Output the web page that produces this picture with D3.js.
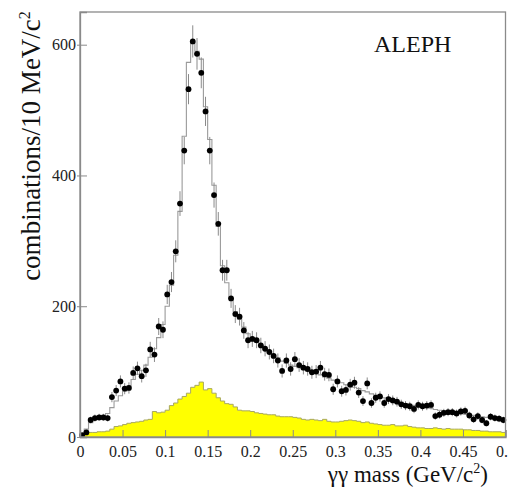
<!DOCTYPE html>
<html><head><meta charset="utf-8">
<script src="https://cdn.jsdelivr.net/npm/d3@7"></script>
<style>body{margin:0;background:#fff} svg{display:block}</style>
</head><body><svg id="c" width="508" height="487"></svg>
<script>
// γγ invariant mass spectrum, 5 MeV bins from 0 to 0.5 GeV/c²
const binWidth = 0.005;
const dataCounts = [
  3, 7, 26, 29, 30, 30, 29, 61, 71, 85,
  74, 75, 98, 105, 93, 102, 134, 126, 169, 164,
  218, 237, 284, 357, 438, 532, 605, 586, 557, 498,
  438, 370, 326, 255, 255, 212, 188, 184, 163, 148,
  150, 148, 140, 135, 130, 124, 117, 101, 117, 104,
  119, 110, 106, 104, 99, 100, 106, 96, 95, 73,
  85, 70, 72, 80, 83, 68, 55, 82, 52, 60,
  62, 52, 58, 56, 54, 50, 48, 47, 43, 49,
  47, 48, 49, 32, 34, 37, 38, 38, 36, 39,
  40, 33, 27, 32, 26, 21, 31, 29, 28, 26
];
const mcCounts = [
  5, 12, 22, 27, 30, 33, 36, 45, 55, 63,
  70, 78, 88, 96, 102, 110, 122, 135, 152, 172,
  200, 232, 278, 345, 460, 573, 603, 590, 578, 505,
  455, 385, 322, 262, 236, 212, 192, 180, 168, 158,
  150, 145, 140, 134, 130, 125, 121, 116, 113, 110,
  108, 106, 104, 101, 99, 97, 95, 92, 90, 87,
  85, 83, 80, 78, 76, 74, 71, 69, 66, 64,
  62, 60, 58, 57, 55, 53, 51, 50, 48, 47,
  46, 45, 44, 42, 41, 40, 39, 38, 37, 36,
  35, 34, 33, 32, 31, 30, 29, 29, 28, 27
];
const bgCounts = [
  4, 6, 7, 7, 8, 8, 9, 12, 16, 17,
  19, 21, 22, 23, 24, 26, 27, 39, 37, 38,
  41, 48, 52, 58, 62, 67, 76, 79, 84, 72,
  74, 67, 60, 55, 51, 50, 46, 41, 40, 40,
  39, 37, 36, 35, 34, 34, 32, 31, 31, 31,
  30, 29, 27, 26, 27, 26, 25, 27, 24, 23,
  23, 24, 25, 26, 25, 24, 22, 23, 21, 20,
  19, 18, 18, 19, 17, 17, 18, 16, 15, 14,
  14, 13, 13, 14, 13, 12, 13, 12, 12, 12,
  11, 11, 10, 10, 9, 9, 8, 8, 8, 7
];
const xTicks = [0, 0.05, 0.1, 0.15, 0.2, 0.25, 0.3, 0.35, 0.4, 0.45, 0.5];
const yTicks = [0, 200, 400, 600];
const xTitle = "γγ mass (GeV/c";
const yTitle = "combinations/10 MeV/c";
const expLabel = "ALEPH";

const svg = d3.select("#c");
const L = 80, R = 505.5, T = 12, B = 437;
const x = d3.scaleLinear().domain([0, 0.5]).range([L, R]);
const y = d3.scaleLinear().domain([0, 650]).range([B, T]);
const serif = "'Liberation Serif','Times New Roman',serif";

// step outline from bin contents: [lowEdge, value] plus the closing edge
function steps(arr) {
  const pts = arr.map((v, i) => [i * binWidth, v]);
  pts.push([arr.length * binWidth, arr[arr.length - 1]]);
  return pts;
}

const g = svg.append("g");

// background component (filled)
g.append("path")
  .datum(steps(bgCounts))
  .attr("d", d3.area().x(d => x(d[0])).y0(y(0)).y1(d => y(d[1])).curve(d3.curveStepAfter))
  .attr("fill", "#ffff00");
g.append("path")
  .datum(steps(bgCounts))
  .attr("d", d3.line().x(d => x(d[0])).y(d => y(d[1])).curve(d3.curveStepAfter))
  .attr("fill", "none").attr("stroke", "#a8a860").attr("stroke-width", 1);

// simulation histogram
g.append("path")
  .datum(steps(mcCounts))
  .attr("d", d3.line().x(d => x(d[0])).y(d => y(d[1])).curve(d3.curveStepAfter))
  .attr("fill", "none").attr("stroke", "#9a9a9a").attr("stroke-width", 1.1);

// data points with statistical errors
const pts = dataCounts.map((v, i) => ({ m: (i + 0.5) * binWidth, n: v }));
g.selectAll("line.err").data(pts).join("line")
  .attr("class", "err")
  .attr("x1", d => x(d.m)).attr("x2", d => x(d.m))
  .attr("y1", d => y(d.n + Math.sqrt(d.n))).attr("y2", d => y(Math.max(0, d.n - Math.sqrt(d.n))))
  .attr("stroke", "#8a8a8a").attr("stroke-width", 1);
g.selectAll("circle.pt").data(pts).join("circle")
  .attr("class", "pt")
  .attr("cx", d => x(d.m)).attr("cy", d => y(d.n)).attr("r", 2.9)
  .attr("fill", "#000");

// frame
svg.append("rect").attr("x", L).attr("y", T).attr("width", R - L).attr("height", B - T)
  .attr("fill", "none").attr("stroke", "#8a8a8a").attr("stroke-width", 1.3);

// axes with inward ticks
const xAxis = svg.append("g").attr("transform", `translate(0,${B})`)
  .call(d3.axisBottom(x).tickValues(xTicks).tickSize(-7).tickPadding(9)
    .tickFormat(d => d === 0 ? "0" : d3.format("~g")(d)));
const yAxis = svg.append("g").attr("transform", `translate(${L},0)`)
  .call(d3.axisLeft(y).tickValues(yTicks).tickSize(-7).tickPadding(4));
[xAxis, yAxis].forEach(a => {
  a.select(".domain").attr("stroke", "#8a8a8a").attr("stroke-width", 1.3);
  a.selectAll(".tick line").attr("stroke", "#8a8a8a").attr("stroke-width", 1);
  a.selectAll(".tick text").attr("fill", "#222").style("font-family", serif).style("font-size", "16px");
});
yAxis.selectAll(".tick line").attr("x1", -3).attr("x2", 7);

// titles
const xt = svg.append("text").attr("x", 488).attr("y", 482).attr("text-anchor", "end")
  .style("font-family", serif).style("font-size", "23px").attr("fill", "#111");
xt.append("tspan").text(xTitle);
xt.append("tspan").attr("dy", -9).style("font-size", "14px").text("2");
xt.append("tspan").attr("dy", 9).text(")");

const yt = svg.append("text").attr("transform", "translate(40,146) rotate(-90)")
  .attr("text-anchor", "middle")
  .style("font-family", serif).style("font-size", "27px").attr("fill", "#111");
yt.append("tspan").text(yTitle);
yt.append("tspan").attr("dy", -10).style("font-size", "16px").text("2");

svg.append("text").attr("x", 374).attr("y", 52).text(expLabel)
  .style("font-family", serif).style("font-size", "24px").attr("fill", "#111");
</script>
</body></html>
